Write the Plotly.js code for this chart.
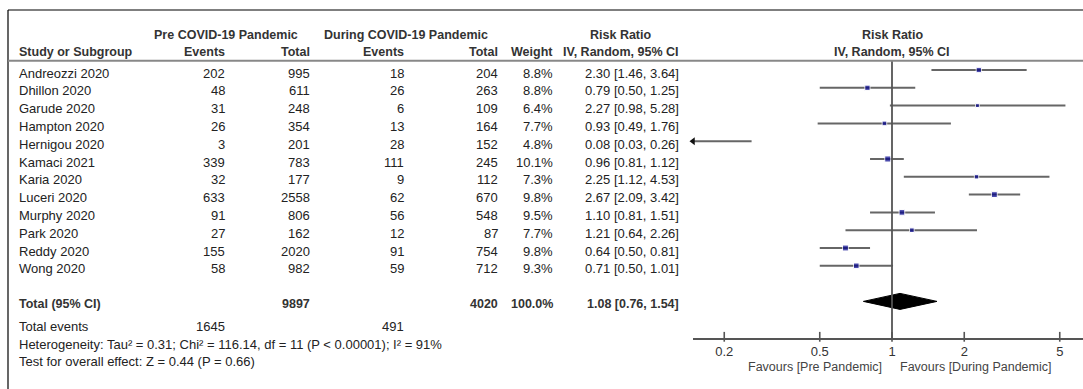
<!DOCTYPE html>
<html>
<head>
<meta charset="utf-8">
<script src="https://cdn.plot.ly/plotly-3.0.1.min.js"></script>
<style>html,body{margin:0;padding:0;background:#fff;}#chart{width:1083px;height:389px;}</style>
</head>
<body>
<div id="chart"></div>
<script>
// ---- data ----
const studies = ["Andreozzi 2020","Dhillon 2020","Garude 2020","Hampton 2020","Hernigou 2020","Kamaci 2021","Karia 2020","Luceri 2020","Murphy 2020","Park 2020","Reddy 2020","Wong 2020"];
const preEvents = [202,48,31,26,3,339,32,633,91,27,155,58];
const preTotal  = [995,611,248,354,201,783,177,2558,806,162,2020,982];
const durEvents = [18,26,6,13,28,111,9,62,56,12,91,59];
const durTotal  = [204,263,109,164,152,245,112,670,548,87,754,712];
const weights   = [8.8,8.8,6.4,7.7,4.8,10.1,7.3,9.8,9.5,7.7,9.8,9.3];
const rr        = [2.30,0.79,2.27,0.93,0.08,0.96,2.25,2.67,1.10,1.21,0.64,0.71];
const ciLow     = [1.46,0.50,0.98,0.49,0.03,0.81,1.12,2.09,0.81,0.64,0.50,0.50];
const ciHigh    = [3.64,1.25,5.28,1.76,0.26,1.12,4.53,3.42,1.51,2.26,0.81,1.01];
const total = {label:"Total (95% CI)", preTotal:9897, durTotal:4020, weight:100.0, rr:1.08, lo:0.76, hi:1.54};
const totalEvents = {pre:1645, dur:491};
const heterogeneity = "Heterogeneity: Tau\u00b2 = 0.31; Chi\u00b2 = 116.14, df = 11 (P < 0.00001); I\u00b2 = 91%";
const overallTest = "Test for overall effect: Z = 0.44 (P = 0.66)";
const tickVals = [0.2,0.5,1,2,5];
const tickText = ["0.2","0.5","1","2","5"];
const favourLeft = "Favours [Pre Pandemic]";
const favourRight = "Favours [During Pandemic]";

// ---- layout geometry (pixels) ----
const W = 1083, H = 389;
const row0 = 70, rowH = 17.8;
const yIdx = px => (px - row0) / rowH;
const px2paperX = px => px / W;
const px2paperY = px => 1 - px / H;
const onePx = 892, perDec = 240, axLeft = 693, axisY = 339.3;
const lx = px => (px - onePx) / perDec;
const xMin = Math.pow(10, lx(axLeft));

const FONT = "Liberation Sans, Arial, sans-serif";
const FS = 13, FSB = 12.5;
const txtCol = "#222", hdrCol = "#333";

const ann = [];
function A(px, row, text, anchor, bold, extra) {
  ann.push(Object.assign({
    xref: "paper", yref: "y", x: px2paperX(px), y: row,
    text: bold ? "<b>" + text + "</b>" : text,
    showarrow: false, xanchor: anchor, yanchor: "middle",
    font: {family: FONT, size: bold ? FSB : FS, color: bold ? hdrCol : txtCol},
    yshift: -3
  }, extra || {}));
}
const cols = {study:17, preEv:227, preTot:312, durEv:406, durTot:500, weight:555, rrTxt:681};
const H0 = {yshift: 0};

// headers
A(226, yIdx(35), "Pre COVID-19 Pandemic", "center", true, H0);
A(406, yIdx(35), "During COVID-19 Pandemic", "center", true, H0);
A(620, yIdx(35), "Risk Ratio", "center", true, H0);
A(892, yIdx(35), "Risk Ratio", "center", true, H0);
A(cols.study, yIdx(52), "Study or Subgroup", "left", true, H0);
A(cols.preEv, yIdx(52), "Events", "right", true, H0);
A(cols.preTot, yIdx(52), "Total", "right", true, H0);
A(cols.durEv, yIdx(52), "Events", "right", true, H0);
A(cols.durTot, yIdx(52), "Total", "right", true, H0);
A(cols.weight, yIdx(52), "Weight", "right", true, H0);
A(cols.rrTxt, yIdx(52), "IV, Random, 95% CI", "right", true, H0);
A(892, yIdx(52), "IV, Random, 95% CI", "center", true, H0);

const f2 = v => v.toFixed(2);
studies.forEach((s, i) => {
  A(cols.study, i, s, "left");
  A(cols.preEv, i, String(preEvents[i]), "right");
  A(cols.preTot, i, String(preTotal[i]), "right");
  A(cols.durEv, i, String(durEvents[i]), "right");
  A(cols.durTot, i, String(durTotal[i]), "right");
  A(cols.weight, i, weights[i].toFixed(1) + "%", "right");
  A(cols.rrTxt, i, f2(rr[i]) + " [" + f2(ciLow[i]) + ", " + f2(ciHigh[i]) + "]", "right");
});
const totRow = studies.length + 1;
A(cols.study, totRow, total.label, "left", true);
A(cols.preTot, totRow, String(total.preTotal), "right", true);
A(cols.durTot, totRow, String(total.durTotal), "right", true);
A(cols.weight, totRow, total.weight.toFixed(1) + "%", "right", true);
A(cols.rrTxt, totRow, f2(total.rr) + " [" + f2(total.lo) + ", " + f2(total.hi) + "]", "right", true);
A(cols.study, yIdx(323), "Total events", "left");
A(cols.preEv, yIdx(323), String(totalEvents.pre), "right");
A(cols.durEv, yIdx(323), String(totalEvents.dur), "right");
A(cols.study, yIdx(341), heterogeneity, "left");
A(cols.study, yIdx(358), overallTest, "left");
A(884, yIdx(367), favourLeft, "right", false, {font:{family:FONT,size:12.5,color:"#444"}, yshift:0});
A(898, yIdx(367), favourRight, "left", false, {font:{family:FONT,size:12.5,color:"#444"}, yshift:0});

// ---- traces ----
const ciX = [], ciY = [];
const arrowX = [], arrowY = [];
studies.forEach((s, i) => {
  const lo = Math.max(ciLow[i], xMin);
  ciX.push(lo, ciHigh[i], null); ciY.push(i, i, null);
  if (ciLow[i] < xMin) { arrowX.push(xMin); arrowY.push(i); }
});
const traces = [
  {type:"scatter", mode:"lines", x:ciX, y:ciY, line:{color:"#666", width:2}, hoverinfo:"skip", connectgaps:false},
  {type:"scatter", mode:"markers", x:rr, y:studies.map((s,i)=>i),
   marker:{symbol:"square", color:"#00008b", size:weights.map(w=>w*0.6)}, hoverinfo:"skip"},
  {type:"scatter", mode:"markers", x:arrowX, y:arrowY,
   marker:{symbol:"triangle-left", color:"#111", size:7}, hoverinfo:"skip", cliponaxis:false},
  {type:"scatter", mode:"lines", fill:"toself", fillcolor:"#000",
   x:[total.lo, total.rr, total.hi, total.rr, total.lo],
   y:[totRow, totRow-0.45, totRow, totRow+0.45, totRow],
   line:{color:"#000", width:1}, hoverinfo:"skip"},
  // tick marks (upward from axis)
  {type:"scatter", mode:"markers", x:tickVals, y:tickVals.map(()=>yIdx(axisY-2.5)),
   marker:{symbol:"line-ns", size:7, line:{color:"#555", width:1.6}}, hoverinfo:"skip", cliponaxis:false}
];

const layout = {
  width: W, height: H,
  margin: {l:0, r:0, t:0, b:0, pad:0},
  paper_bgcolor: "#fff", plot_bgcolor: "rgba(0,0,0,0)",
  showlegend: false,
  xaxis: {
    type: "log", domain: [axLeft / W, 1],
    range: [lx(axLeft), lx(W)],
    anchor: "free", position: px2paperY(axisY),
    showgrid: false, zeroline: false,
    showline: true, linecolor: "#555", linewidth: 2,
    ticks: "", tickvals: tickVals, ticktext: tickText,
    tickfont: {family: FONT, size: FS, color: "#333"},
    fixedrange: true
  },
  yaxis: {
    range: [yIdx(H), yIdx(0)], domain: [0, 1],
    visible: false, showgrid: false, zeroline: false, fixedrange: true
  },
  annotations: ann,
  shapes: [
    {type:"line", xref:"paper", yref:"paper", x0:px2paperX(8), x1:1, y0:px2paperY(10), y1:px2paperY(10), line:{color:"#000", width:1.2}},
    {type:"line", xref:"paper", yref:"paper", x0:px2paperX(8), x1:px2paperX(8), y0:px2paperY(10), y1:0, line:{color:"#000", width:1.2}},
    {type:"line", xref:"paper", yref:"paper", x0:px2paperX(8), x1:1, y0:px2paperY(60.7), y1:px2paperY(60.7), line:{color:"#888", width:2}},
    {type:"line", xref:"x", yref:"y", x0:1, x1:1, y0:yIdx(61.5), y1:yIdx(axisY), line:{color:"#555", width:1.8}}
  ]
};
Plotly.newPlot("chart", traces, layout, {displayModeBar:false, staticPlot:true});
</script>
</body>
</html>
